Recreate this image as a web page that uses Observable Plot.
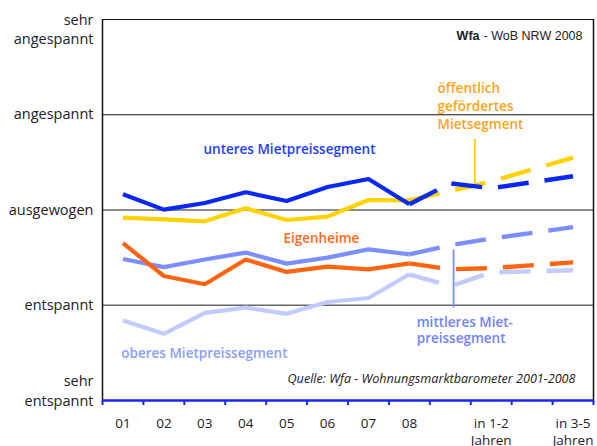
<!DOCTYPE html>
<html>
<head>
<meta charset="utf-8">
<script src="https://cdn.jsdelivr.net/npm/d3@7"></script>
<script src="https://cdn.jsdelivr.net/npm/@observablehq/plot@0.6"></script>
<style>
  html, body { margin: 0; padding: 0; background: #fff; }
  #chart svg { display: block; }
</style>
</head>
<body>
<div id="chart"></div>
<script>
// ---- data ----
const xLabels = ["01", "02", "03", "04", "05", "06", "07", "08", "in 1-2\nJahren", "in 3-5\nJahren"];
const xPositions = [1, 2, 3, 4, 5, 6, 7, 8, 10, 12];
const histX = [1, 2, 3, 4, 5, 6, 7, 8];
const forecastX = [8, 9, 10, 12];

const yTickValues = [2, 1, 0, -1, -2];
const yTickLabels = ["sehr\nangespannt", "angespannt", "ausgewogen", "entspannt", "sehr\nentspannt"];

const seriesNames = ["oberes Mietpreissegment", "mittleres Mietpreissegment", "Eigenheime", "öffentlich gefördertes Mietsegment", "unteres Mietpreissegment"];
const seriesColors = ["#c2cbff", "#7d8fff", "#ff6410", "#ffd200", "#0a28f5"];

const oberesHist = [-1.16, -1.30, -1.08, -1.025, -1.09, -0.966, -0.924, -0.675];
const oberesForecast = [-0.675, -0.80, -0.655, -0.633];
const mittleresHist = [-0.515, -0.60, -0.52, -0.447, -0.563, -0.50, -0.413, -0.465];
const mittleresForecast = [-0.465, -0.37, -0.30, -0.18];
const eigenheimeHist = [-0.347, -0.693, -0.78, -0.52, -0.65, -0.595, -0.623, -0.56];
const eigenheimeForecast = [-0.56, -0.623, -0.61, -0.55];
const oeffentlichHist = [-0.08, -0.098, -0.119, 0.018, -0.105, -0.069, 0.105, 0.102];
const oeffentlichForecast = [0.102, 0.20, 0.30, 0.55];
const unteresHist = [0.165, 0.004, 0.074, 0.186, 0.095, 0.242, 0.326, 0.06];
const unteresForecast = [0.06, 0.28, 0.228, 0.354];

const histValues = [oberesHist, mittleresHist, eigenheimeHist, oeffentlichHist, unteresHist];
const forecastValues = [oberesForecast, mittleresForecast, eigenheimeForecast, oeffentlichForecast, unteresForecast];

const headerBold = "Wfa";
const headerRest = "- WoB NRW 2008";
const sourceText = "Quelle: Wfa - Wohnungsmarktbarometer 2001-2008";

// ---- build tables ----
const hist = [];
const fc = [];
seriesNames.forEach((s, i) => {
  histX.forEach((x, j) => hist.push({series: s, x, y: histValues[i][j]}));
  forecastX.forEach((x, j) => fc.push({series: s, x, y: forecastValues[i][j]}));
});
const boundaries = d3.range(0.5, 13, 1);
const xTicks = xPositions.map((x, i) => ({x, label: xLabels[i]}));
const yTicks = yTickValues.map((v, i) => ({v, label: yTickLabels[i]}));

const font = "'Open Sans', Lato, sans-serif";
const hdrFont = "'Liberation Sans', Arial, sans-serif";
const lblSize = 13.5;

const chart = Plot.plot({
  width: 597,
  height: 446,
  marginLeft: 102,
  marginRight: 4,
  marginTop: 19,
  marginBottom: 46,
  style: {fontFamily: font, fontSize: "13px", color: "#222", background: "#fff"},
  x: {domain: [0.5, 12.5], axis: null},
  y: {domain: [-2, 2], axis: null},
  color: {domain: seriesNames, range: seriesColors},
  marks: [
    // grid lines
    Plot.ruleY([1], {stroke: "#111", strokeWidth: 1}),
    Plot.ruleY([0, -1], {stroke: "#666", strokeWidth: 1.4}),
    // frame
    Plot.ruleY([2], {stroke: "#111", strokeWidth: 1.2}),
    Plot.ruleX([0.5, 12.5], {stroke: "#111", strokeWidth: 1.5}),
    // bottom axis
    Plot.axisX({ticks: boundaries, tickSize: 5, tickFormat: () => "", label: null, stroke: "#1a24ff", strokeWidth: 2}),
    Plot.ruleY([-2], {stroke: "#1a24ff", strokeWidth: 2.5}),
    Plot.text(xTicks, {x: "x", y: -2, text: "label", dy: 14.5, lineAnchor: "top", lineHeight: 1.32, fontSize: 13.5, fill: "#222"}),
    // y labels
    Plot.text(yTicks.filter(d => d.v === 2), {x: 0.5, y: "v", text: "label", dx: -9, dy: 8.7, textAnchor: "end", lineAnchor: "middle", lineHeight: 1.35, fontSize: 14.5, fill: "#222"}),
    Plot.text(yTicks.filter(d => Math.abs(d.v) < 2), {x: 0.5, y: "v", text: "label", dx: -9, textAnchor: "end", fontSize: 14.5, fill: "#222"}),
    Plot.text(yTicks.filter(d => d.v === -2), {x: 0.5, y: "v", text: "label", dx: -9, dy: -10.5, textAnchor: "end", lineAnchor: "middle", lineHeight: 1.35, fontSize: 14.5, fill: "#222"}),
    // lines
    Plot.line(hist, {x: "x", y: "y", z: "series", stroke: "series", strokeWidth: 4.2, strokeLinejoin: "miter", strokeLinecap: "butt"}),
    Plot.line(fc, {x: "x", y: "y", z: "series", stroke: "series", strokeWidth: 4.4, strokeDasharray: "31,16", strokeLinecap: "butt", strokeLinejoin: "miter"}),
    // leader lines
    Plot.ruleX([9.6], {y1: 0.74, y2: 0.28, stroke: "#ffcc00", strokeWidth: 1.8}),
    Plot.ruleX([9.08], {y1: -0.42, y2: -1.03, stroke: "#7d8fff", strokeWidth: 1.8}),
    // series labels
    Plot.text([seriesNames[4]], {x: 5.07, y: 0.63, text: d => d, fill: "#1c3cff", textAnchor: "middle", fontSize: lblSize, fontWeight: 600}),
    Plot.text([seriesNames[2]], {x: 5.85, y: -0.297, text: d => d, fill: "#ff6a1c", textAnchor: "middle", fontSize: lblSize, fontWeight: 600}),
    Plot.text([seriesNames[0]], {x: 0.96, y: -1.505, text: d => d, fill: "#8c9dff", textAnchor: "start", fontSize: lblSize, fontWeight: 600}),
    Plot.text(["öffentlich\ngefördertes\nMietsegment"], {x: 8.69, y: 1.1, text: d => d, fill: "#ffa318", textAnchor: "start", lineHeight: 1.33, fontSize: lblSize, fontWeight: 600}),
    Plot.text(["mittleres Miet-\npreissegment"], {x: 8.18, y: -1.26, text: d => d, fill: "#6f83ff", textAnchor: "start", lineHeight: 1.19, fontSize: lblSize, fontWeight: 600}),
    // header & source
    Plot.text([headerRest], {x: 12.5, y: 2, text: d => d, dx: -11, dy: 16, textAnchor: "end", fontSize: 12.5, fontFamily: hdrFont, fill: "#222"}),
    Plot.text([headerBold], {x: 12.5, y: 2, text: d => d, dx: -114, dy: 16, textAnchor: "end", fontSize: 12.5, fontWeight: "bold", fontFamily: hdrFont, fill: "#222"}),
    Plot.text([sourceText], {x: 12.5, y: -2, text: d => d, dx: -18, dy: -22, textAnchor: "end", fontSize: 12.6, fontStyle: "italic", fill: "#222"})
  ]
});
document.getElementById("chart").appendChild(chart);
</script>
</body>
</html>
